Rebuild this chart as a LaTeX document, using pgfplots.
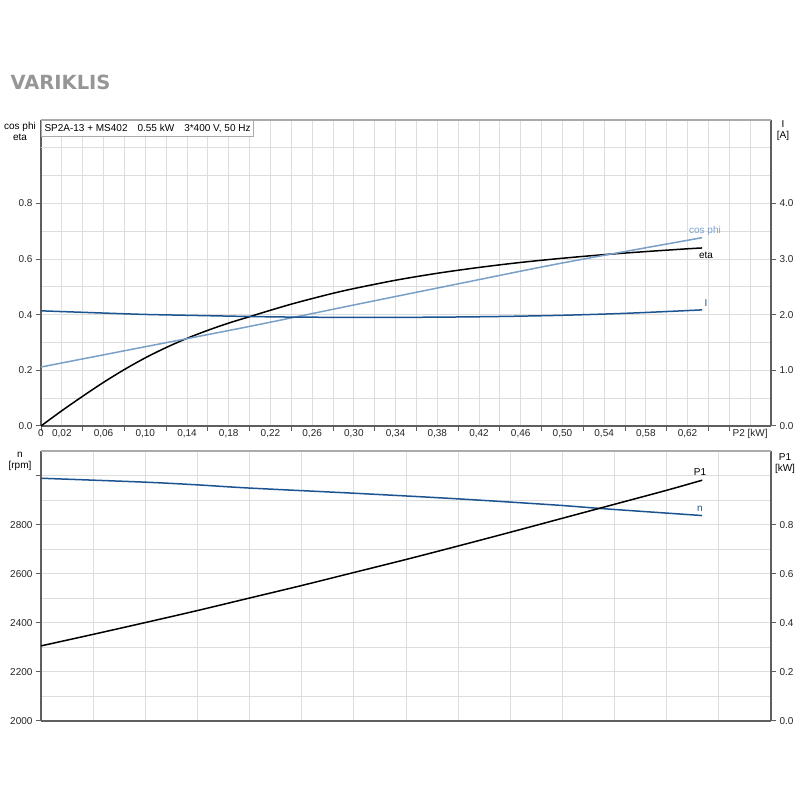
\documentclass[border=0pt]{standalone}
\usepackage{pgfplots}
\pgfplotsset{compat=1.18}
\usepackage{fontspec}
\setmainfont{Liberation Sans}
\newfontfamily\titlefont{DejaVu Sans}
\definecolor{darkblue}{RGB}{28,84,145}
\definecolor{lightblue}{RGB}{122,160,200}
\definecolor{gridgray}{RGB}{221,221,221}
\definecolor{axisgray}{RGB}{95,95,95}
\definecolor{framegray}{RGB}{170,170,170}
\definecolor{titlegray}{RGB}{150,150,150}
\pgfplotsset{
  base/.style={
    scale only axis, width=730pt, xmin=0, xmax=0.70,
    tick align=outside, major tick length=5pt, minor tick length=0pt,
    tick style={axisgray, line width=1pt},
    axis line style={axisgray, line width=1.5pt},
    grid style={gridgray, line width=0.9pt},
    ticklabel style={font=\fontsize{10}{12}\selectfont, text=black!85},
    /pgf/number format/assume math mode=true,
    clip=false,
  },
  onedec/.style={yticklabel={\pgfmathprintnumber[fixed,fixed zerofill,precision=1]{\tick}}},
}
\begin{document}
\fontsize{10}{12}\selectfont
\begin{tikzpicture}
\useasboundingbox (0pt,0pt) rectangle (800pt,800pt);
\fill[white] (0pt,0pt) rectangle (800pt,800pt);
\node[anchor=west, text=titlegray, font=\titlefont\bfseries\fontsize{19.5}{22}\selectfont] at (7pt,718pt) {VARIKLIS};

% ---------- top panel: cos phi, eta (left), I (right)
\begin{axis}[base, at={(41pt,374pt)}, anchor=south west, height=306pt,
  ymin=0, ymax=1.1,
  axis x line*=bottom, axis y line*=left,
  xtick={0,0.04,0.08,0.12,0.16,0.20,0.24,0.28,0.32,0.36,0.40,0.44,0.48,0.52,0.56,0.60,0.64,0.66},
  xticklabels={},
  minor xtick={0.02,0.06,0.10,0.14,0.18,0.22,0.26,0.30,0.34,0.38,0.42,0.46,0.50,0.54,0.58,0.62,0.68},
  xmajorgrids, xminorgrids,
  extra x ticks={0,0.02,0.06,0.10,0.14,0.18,0.22,0.26,0.30,0.34,0.38,0.42,0.46,0.50,0.54,0.58,0.62,0.68},
  extra x tick labels={0,{0,02},{0,06},{0,10},{0,14},{0,18},{0,22},{0,26},{0,30},{0,34},{0,38},{0,42},{0,46},{0,50},{0,54},{0,58},{0,62},{P2 [kW]}},
  extra x tick style={major tick length=0pt, grid=none},
  ytick={0,0.2,0.4,0.6,0.8}, onedec,
  minor ytick={0.1,0.3,0.5,0.7,0.9},
  extra y ticks={1.0}, extra y tick labels={}, extra y tick style={major tick length=0pt, grid=major},
  ymajorgrids, yminorgrids,
]
\addplot[black, line width=1.5pt, smooth] coordinates {
(0,0) (0.02,0.055) (0.04,0.107) (0.06,0.157) (0.08,0.203) (0.10,0.245)
(0.12,0.282) (0.14,0.315) (0.16,0.344) (0.18,0.370) (0.20,0.393)
(0.22,0.416) (0.24,0.438) (0.26,0.458) (0.28,0.477) (0.30,0.494)
(0.34,0.524) (0.38,0.549) (0.42,0.570) (0.46,0.588) (0.50,0.603)
(0.54,0.616) (0.58,0.627) (0.62,0.637) (0.634,0.640)};
\addplot[lightblue, line width=1.5pt, smooth] coordinates {
(0,0.212) (0.1,0.285) (0.2,0.358) (0.3,0.435) (0.4,0.511) (0.5,0.586) (0.634,0.677)};
\end{axis}
\begin{axis}[base, at={(41pt,374pt)}, anchor=south west, height=306pt,
  ymin=0, ymax=5.5, axis y line*=right, axis x line=none,
  ytick={0,1,2,3,4}, onedec,
]
\addplot[darkblue, line width=1.5pt, smooth] coordinates {
(0,2.07) (0.06,2.03) (0.10,2.005) (0.14,1.99) (0.20,1.968) (0.24,1.958)
(0.30,1.952) (0.37,1.955) (0.435,1.967) (0.50,1.99) (0.563,2.027) (0.634,2.087)};
\end{axis}
\draw[framegray, line width=1.5pt] (41pt,680pt) -- (771pt,680pt);

% ---------- bottom panel: n (left), P1 (right)
\begin{axis}[base, at={(41pt,79pt)}, anchor=south west, height=270pt,
  ymin=2000, ymax=3100,
  axis x line*=bottom, axis y line*=left,
  xtick={0.05,0.10,0.15,0.20,0.25,0.30,0.35,0.40,0.45,0.50,0.55,0.60,0.65},
  xticklabels={}, xmajorgrids,
  x tick style={draw=none},
  ytick={2000,2200,2400,2600,2800,3000},
  yticklabels={2000,2200,2400,2600,2800,{}},
  minor ytick={2100,2300,2500,2700,2900},
  ymajorgrids, yminorgrids,
]
\addplot[darkblue, line width=1.5pt, smooth] coordinates {
(0,2989) (0.1,2973) (0.15,2962) (0.2,2949) (0.3,2928) (0.4,2905)
(0.5,2878) (0.539,2865) (0.634,2837)};
\end{axis}
\begin{axis}[base, at={(41pt,79pt)}, anchor=south west, height=270pt,
  ymin=0, ymax=1.1, axis y line*=right, axis x line=none,
  ytick={0,0.2,0.4,0.6,0.8}, onedec,
]
\addplot[black, line width=1.5pt, smooth] coordinates {
(0,0.306) (0.05,0.353) (0.1,0.401) (0.15,0.450) (0.2,0.501) (0.25,0.552)
(0.3,0.605) (0.35,0.658) (0.4,0.713) (0.45,0.769) (0.5,0.826)
(0.55,0.883) (0.6,0.940) (0.634,0.981)};
\end{axis}
\draw[framegray, line width=1.5pt] (41pt,349pt) -- (771pt,349pt);

% ---------- labels
\node[align=center, font=\fontsize{10}{11}\selectfont, inner sep=0pt] at (20pt,669pt) {cos phi\\eta};
\node[align=center, font=\fontsize{10}{11}\selectfont, inner sep=0pt] at (783pt,669pt) {I\\{}[A]};
\node[align=center, font=\fontsize{10}{11}\selectfont, inner sep=0pt] at (20pt,339pt) {n\\{}[rpm]};
\node[align=center, font=\fontsize{10}{11}\selectfont, inner sep=0pt] at (785pt,336pt) {P1\\{}[kW]};
\node[anchor=north west, draw=framegray, line width=1pt, fill=white, inner xsep=3pt, inner ysep=3.5pt,
  font=\fontsize{10}{12}\selectfont] at (41pt,680pt) {SP2A-13 + MS402\hspace{10pt}0.55 kW\hspace{10pt}3*400 V, 50 Hz};
\node[text=lightblue, font=\fontsize{10}{12}\selectfont] at (705pt,569pt) {cos phi};
\node[text=black, font=\fontsize{10}{12}\selectfont] at (706pt,545pt) {eta};
\node[text=darkblue, font=\fontsize{10}{12}\selectfont] at (706pt,497pt) {I};
\node[text=black, font=\fontsize{10}{12}\selectfont] at (700pt,328pt) {P1};
\node[text=darkblue, font=\fontsize{10}{12}\selectfont] at (700pt,291pt) {n};
\end{tikzpicture}
\end{document}
